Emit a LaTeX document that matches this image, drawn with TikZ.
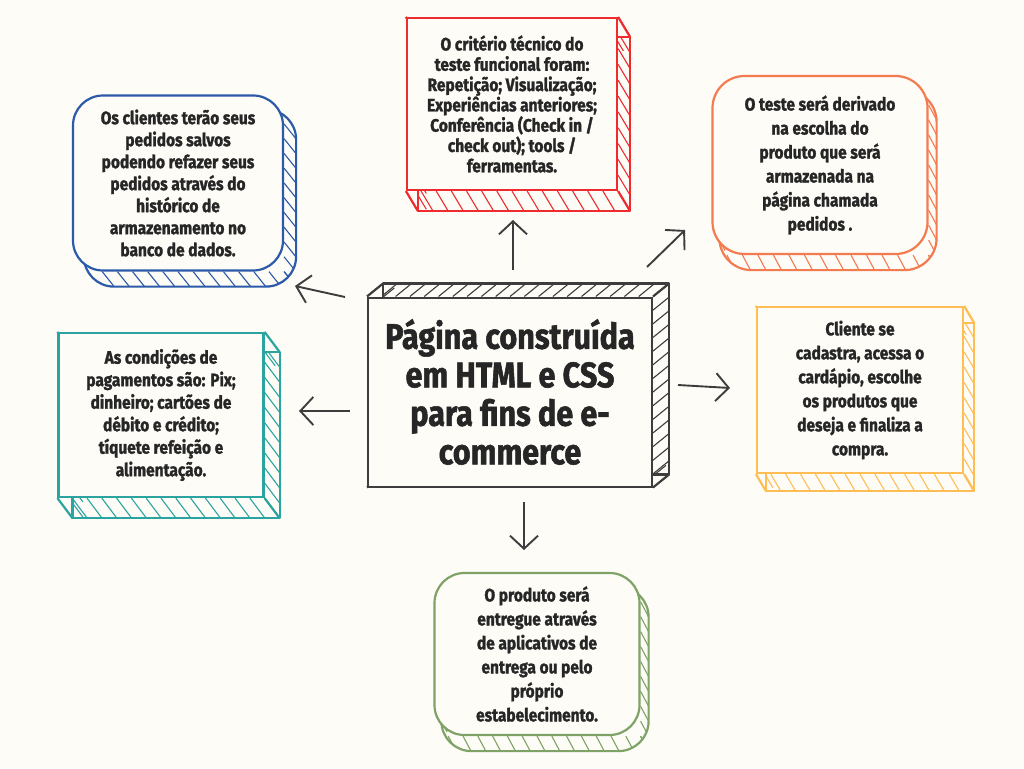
\documentclass[tikz,border=0pt]{standalone}
\usepackage{fontspec}
\setmainfont{Fira Sans}[FakeStretch=0.86, BoldFeatures={FakeBold=1.5}]
\usetikzlibrary{calc,arrows.meta,backgrounds}
\definecolor{bg}{HTML}{FDFCF7}
\definecolor{cred}{HTML}{EE2B2E}
\definecolor{cblue}{HTML}{2C5AA8}
\definecolor{corange}{HTML}{F47A50}
\definecolor{cteal}{HTML}{2BA3A0}
\definecolor{cyellow}{HTML}{FFBE55}
\definecolor{cgreen}{HTML}{7FA266}
\definecolor{cdark}{HTML}{3D3D3D}
\definecolor{ctext}{HTML}{262626}
\tikzset{
  card/.style={draw=#1, fill=bg, line width=2.2pt, inner sep=0pt, align=center,
    text=ctext, font=\bfseries},
  outline/.style={line width=2.2pt, line join=round},
  stripe/.style={line width=1.1pt},
  arr/.style={cdark, line width=1.9pt, -{Straight Barb[length=13pt,width=28pt,line width=1.9pt]}}
}
% name, dx, dy, colour, radius, n horizontal, n vertical
\newcommand\threed[7]{%
\begin{pgfonlayer}{background}
  \begin{scope}
    \path[clip,rounded corners=#5] ($(#1.south west)+(#2,#3)$) rectangle ($(#1.north east)+(#2,#3)$);
    \foreach \i in {0,...,#6}{
      \draw[#4,stripe] ($(#1.south west)!{\i/#6}!(#1.south east)$) -- ++($1.7*(#2,#3)$);
      \draw[#4,stripe] ($(#1.north west)!{\i/#6}!(#1.north east)$) -- ++($1.7*(#2,#3)$);
    }
    \foreach \i in {0,...,#7}{
      \draw[#4,stripe] ($(#1.north east)!{\i/#7}!(#1.south east)$) -- ++($1.7*(#2,#3)$);
      \draw[#4,stripe] ($(#1.north west)!{\i/#7}!(#1.south west)$) -- ++($1.7*(#2,#3)$);
    }
  \end{scope}
  \draw[#4,outline,rounded corners=#5] ($(#1.south west)+(#2,#3)$) rectangle ($(#1.north east)+(#2,#3)$);
\end{pgfonlayer}}
\newcommand\corners[4]{%
\begin{pgfonlayer}{background}
  \foreach \a in {north east,north west,south east,south west}
    \draw[#4,outline] (#1.\a) -- ++(#2,#3);
\end{pgfonlayer}}
\begin{document}
\begin{tikzpicture}[x=1pt,y=-1pt]
\begin{pgfonlayer}{background}
\fill[bg] (0,0) rectangle (1024,768);
\end{pgfonlayer}
\useasboundingbox (0,0) rectangle (1024,768);

% central
\node[card=cdark, line width=2pt, minimum width=284pt, minimum height=189pt,
  font=\bfseries\fontsize{35.5}{38.5}\selectfont] (main) at (510,392)
  {Página construída\\em HTML e CSS\\para fins de e-\\commerce};
\threed{main}{16}{-13}{cdark}{0pt}{20}{14}
\corners{main}{16}{-13}{cdark}

% red
\node[card=cred, minimum width=210pt, minimum height=172pt,
  font=\bfseries\fontsize{18}{20.3}\selectfont] (red) at (512,104)
  {O critério técnico do\\teste funcional foram:\\Repetição; Visualização;\\Experiências anteriores;\\Conferência (Check in /\\check out); tools /\\ferramentas.};
\threed{red}{12}{20}{cred}{0pt}{14}{11}
\corners{red}{12}{20}{cred}

% blue
\node[card=cblue, rounded corners=30pt, minimum width=210pt, minimum height=175pt,
  font=\bfseries\fontsize{18}{22}\selectfont] (blue) at (178,183)
  {Os clientes terão seus\\pedidos salvos\\podendo refazer seus\\pedidos através do\\histórico de\\armazenamento no\\banco de dados.};
\threed{blue}{12}{15}{cblue}{30pt}{14}{12}

% orange
\node[card=corange, rounded corners=32pt, minimum width=215pt, minimum height=178pt,
  font=\bfseries\fontsize{18}{24}\selectfont] (orange) at (820,165)
  {O teste será derivado\\na escolha do\\produto que será\\armazenada na\\página chamada\\pedidos .};
\threed{orange}{8}{15}{corange}{32pt}{14}{12}

% teal
\node[card=cteal, minimum width=205pt, minimum height=164pt,
  font=\bfseries\fontsize{18}{22.5}\selectfont] (teal) at (161,415)
  {As condições de\\pagamentos são: Pix;\\dinheiro; cartões de\\débito e crédito;\\tíquete refeição e\\alimentação.};
\threed{teal}{15}{20}{cteal}{0pt}{14}{11}
\corners{teal}{15}{20}{cteal}

% yellow
\node[card=cyellow, minimum width=206pt, minimum height=166pt,
  font=\bfseries\fontsize{18}{24}\selectfont] (yellow) at (860,390)
  {Cliente se\\cadastra, acessa o\\cardápio, escolhe\\os produtos que\\deseja e finaliza a\\compra.};
\threed{yellow}{10}{17}{cyellow}{0pt}{14}{11}
\corners{yellow}{10}{17}{cyellow}

% green
\node[card=cgreen, rounded corners=30pt, minimum width=205pt, minimum height=162pt,
  font=\bfseries\fontsize{18}{24}\selectfont] (green) at (537,654)
  {O produto será\\entregue através\\de aplicativos de\\entrega ou pelo\\próprio\\estabelecimento.};
\threed{green}{8}{15}{cgreen}{30pt}{14}{11}

% arrows
\coordinate (a1s) at (513,270); \coordinate (a1e) at (513,220);
\coordinate (a2s) at (647,267); \coordinate (a2e) at (685,230);
\coordinate (a3s) at (345,297); \coordinate (a3e) at (295,286);
\coordinate (a4s) at (350,411); \coordinate (a4e) at (299,411);
\coordinate (a5s) at (678,385); \coordinate (a5e) at (730,388);
\coordinate (a6s) at (524,502); \coordinate (a6e) at (524,550);
\draw[arr] (a1s) -- (a1e);
\draw[arr] (a2s) -- (a2e);
\draw[arr] (a3s) -- (a3e);
\draw[arr] (a4s) -- (a4e);
\draw[arr] (a5s) -- (a5e);
\draw[arr] (a6s) -- (a6e);
\end{tikzpicture}
\end{document}
